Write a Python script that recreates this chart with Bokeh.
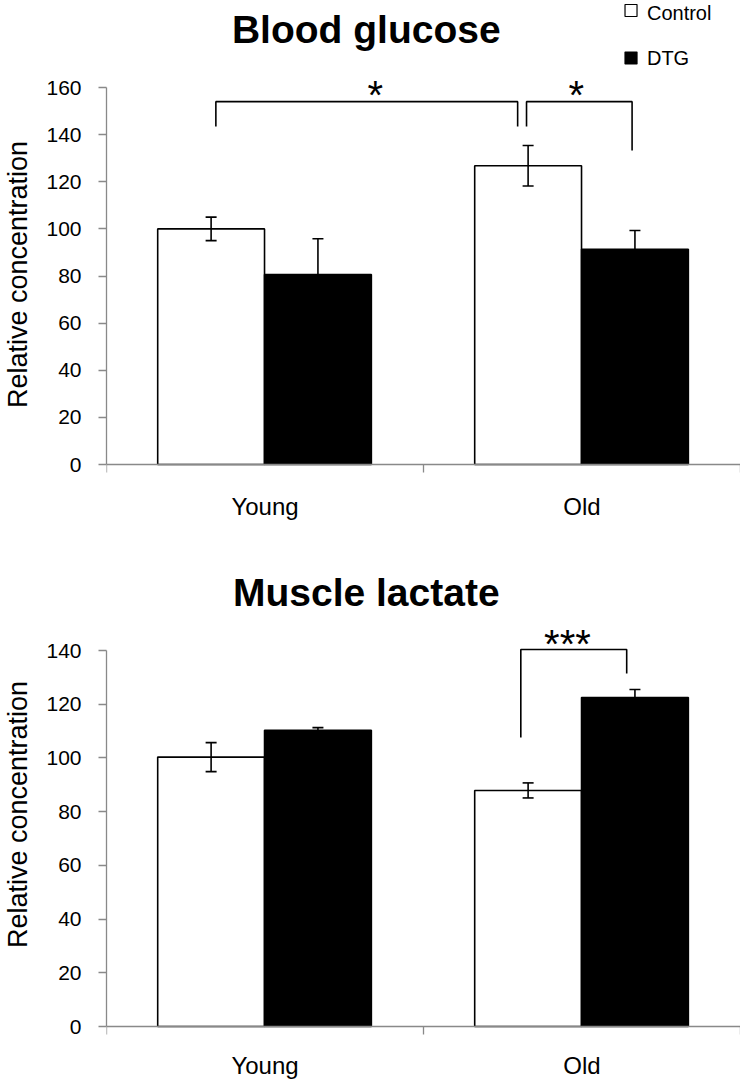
from bokeh.plotting import figure
from bokeh.models import Range1d, FixedTicker, ColumnDataSource, Whisker, TeeHead
from bokeh.layouts import column
from bokeh.embed import file_html
from bokeh.resources import INLINE
from bokeh.core.properties import value

# ---------------- data ----------------
groups = ["Young", "Old"]
series_names = ["Control", "DTG"]

glucose_control = [100.0, 126.8]
glucose_control_err = [5.0, 8.6]
glucose_dtg = [80.6, 91.3]
glucose_dtg_err = [15.2, 8.0]
glucose_ticks = [0, 20, 40, 60, 80, 100, 120, 140, 160]

lactate_control = [100.3, 87.9]
lactate_control_err = [5.4, 2.8]
lactate_dtg = [110.3, 122.5]
lactate_dtg_err = [1.0, 3.0]
lactate_ticks = [0, 20, 40, 60, 80, 100, 120, 140]

# significance brackets: (x_left, x_right, y_top, y_left_end, y_right_end, label_x, label)
glucose_brackets = [(0.345, 1.297, 154.0, 143.5, 143.5, 0.848, "*"),
                    (1.325, 1.658, 154.0, 143.5, 133.3, 1.482, "*")]
lactate_brackets = [(1.307, 1.641, 140.4, 107.6, 131.4, 1.454, "***")]

FONT = "Liberation Sans"
AXIS_GRAY = "#898989"
W = 740
LEFT = 103
CTRL_OFF, DTG_OFF, BAR_W = 0.330, 0.667, 0.337
X_PPU = (W - LEFT) / 2.0


def dx(px):
    return (px - LEFT) / X_PPU


def make_panel(title, ctrl, ctrl_err, dtg, dtg_err, ticks, brackets,
               fig_h, zero_y, axis_px, title_cy, star_cy, label_standoff,
               legend=None):
    ymax = ticks[-1]
    ppu = axis_px / ymax

    def dy(py):  # figure pixel row -> data value
        return (zero_y - py) / ppu

    p = figure(width=W, height=fig_h, output_backend="svg", toolbar_location=None,
               x_range=Range1d(0, 2), y_range=Range1d(dy(fig_h), dy(0)),
               min_border_left=LEFT, min_border_right=0, min_border_top=0,
               min_border_bottom=0)
    p.outline_line_color = None
    p.grid.visible = False
    p.background_fill_color = "white"

    xc = [i + CTRL_OFF for i in range(len(groups))]
    xd = [i + DTG_OFF for i in range(len(groups))]
    src_c = ColumnDataSource(dict(x=xc, top=ctrl,
                                  lower=[m - e for m, e in zip(ctrl, ctrl_err)],
                                  upper=[m + e for m, e in zip(ctrl, ctrl_err)]))
    src_d = ColumnDataSource(dict(x=xd, top=dtg,
                                  lower=[m - e for m, e in zip(dtg, dtg_err)],
                                  upper=[m + e for m, e in zip(dtg, dtg_err)]))
    p.vbar(x="x", top="top", bottom=0, width=BAR_W, source=src_c,
           fill_color="white", line_color="black", line_width=1.6)
    p.vbar(x="x", top="top", bottom=0, width=BAR_W, source=src_d,
           fill_color="black", line_color="black", line_width=1.6)
    for src in (src_c, src_d):
        p.add_layout(Whisker(source=src, base="x", upper="upper", lower="lower",
                             level="overlay",
                             line_color="black", line_width=1.6,
                             upper_head=TeeHead(size=11, line_color="black", line_width=1.6),
                             lower_head=TeeHead(size=11, line_color="black", line_width=1.6)))

    # significance brackets and stars
    for (xl, xr, yt, yle, yre, lx, lab) in brackets:
        p.line([xl, xl, xr, xr], [yle, yt, yt, yre], line_color="black", line_width=1.6)
        p.text([lx], [dy(star_cy)], text=[lab], text_align="center", text_baseline="middle",
               text_font=value(FONT), text_font_size="40px", text_color="black")

    # title
    p.text([dx(364)], [dy(title_cy)], text=[title], text_align="center",
           text_baseline="middle", text_font=value(FONT), text_font_style="bold",
           text_font_size="39px", text_color="black")

    if legend is not None:
        (sq_x, tx_x, sq_ys, tx_ys) = legend
        p.scatter([dx(sq_x)] * 2, [dy(v) for v in sq_ys], marker="square", size=12,
                  fill_color=["white", "black"], line_color="black", line_width=1.2)
        p.text([dx(tx_x)] * 2, [dy(v) for v in tx_ys], text=series_names,
               text_align="left", text_baseline="middle",
               text_font=value(FONT), text_font_size="20px", text_color="black")

    # y axis
    ya = p.yaxis[0]
    ya.ticker = FixedTicker(ticks=ticks)
    ya.bounds = (0, ymax)
    ya.axis_line_color = AXIS_GRAY
    ya.axis_line_width = 1.3
    ya.major_tick_line_color = AXIS_GRAY
    ya.major_tick_line_width = 1.3
    ya.major_tick_out = 8
    ya.major_tick_in = 0
    ya.minor_tick_line_color = None
    ya.major_label_text_font = FONT
    ya.major_label_text_font_size = "21px"
    ya.major_label_text_color = "black"
    ya.major_label_standoff = 17
    ya.axis_label = "Relative concentration"
    ya.axis_label_text_font = FONT
    ya.axis_label_text_font_size = "27px"
    ya.axis_label_text_font_style = "normal"
    ya.axis_label_text_color = "black"
    ya.axis_label_standoff = 10

    # x axis pinned at value 0
    xa = p.xaxis[0]
    xa.fixed_location = 0
    xa.ticker = FixedTicker(ticks=[0.5, 1.5], minor_ticks=[0, 1, 2])
    xa.major_label_overrides = {0.5: groups[0], 1.5: groups[1]}
    xa.axis_line_color = AXIS_GRAY
    xa.axis_line_width = 1.3
    xa.major_tick_out = 0
    xa.major_tick_in = 0
    xa.major_tick_line_color = None
    xa.minor_tick_out = 8
    xa.minor_tick_in = 0
    xa.minor_tick_line_color = AXIS_GRAY
    xa.minor_tick_line_width = 1.3
    xa.major_label_text_font = FONT
    xa.major_label_text_font_size = "24px"
    xa.major_label_text_color = "black"
    xa.major_label_standoff = label_standoff
    return p


# top panel: page rows 0..548; value 0 at row 464, 160 at row 87
top_h = 548
p1 = make_panel("Blood glucose", glucose_control, glucose_control_err, glucose_dtg,
                glucose_dtg_err, glucose_ticks, glucose_brackets,
                fig_h=top_h, zero_y=464, axis_px=377, title_cy=29, star_cy=94,
                label_standoff=20,
                legend=(630, 646, [10, 57.5], [12, 57.5]))

# bottom panel: page rows 548..1080; value 0 at row 1026, 140 at row 650
bot_top = top_h
bot_h = 1080 - top_h
p2 = make_panel("Muscle lactate", lactate_control, lactate_control_err, lactate_dtg,
                lactate_dtg_err, lactate_ticks, lactate_brackets,
                fig_h=bot_h, zero_y=1026 - bot_top, axis_px=376,
                title_cy=592 - bot_top, star_cy=643 - bot_top,
                label_standoff=17)

layout = column(p1, p2)
open("out.html", "w").write(file_html(layout, INLINE))
